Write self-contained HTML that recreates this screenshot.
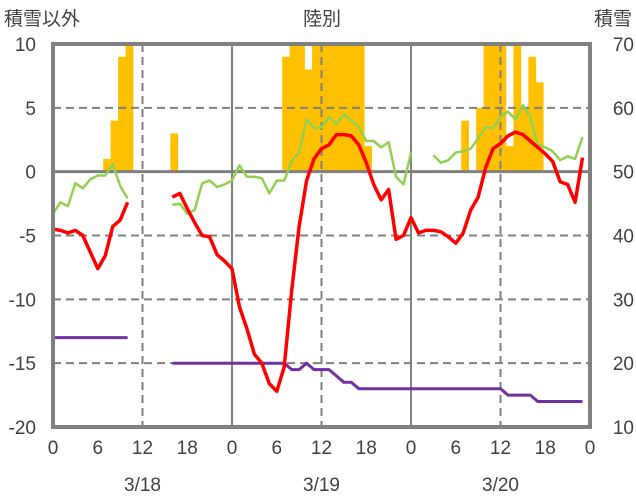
<!DOCTYPE html>
<html><head><meta charset="utf-8"><style>
body{margin:0;background:#fff;}
svg{display:block;font-family:"Liberation Sans","Noto Sans CJK JP",sans-serif;}
</style></head><body>
<svg id="chart" width="636" height="501"></svg>
<script>
const hours=[...Array(72).keys()];
const xTickLabels=["0","6","12","18","0","6","12","18","0","6","12","18","0"];
const dateLabels=["3/18","3/19","3/20"];
const leftTicks=[10,5,0,-5,-10,-15,-20];
const rightTicks=[70,60,50,40,30,20,10];
const N=null;
const tempMax=[-4.5,-4.6,-4.8,-4.6,-5.0,-6.3,-7.6,-6.6,-4.3,-3.8,-2.4,N,N,N,N,N,-2.0,-1.7,-2.9,-4.0,-5.0,-5.1,-6.5,-7.0,
-7.6,-10.6,-12.3,-14.3,-15.0,-16.6,-17.2,-15.3,-9.3,-4.3,-0.7,1.0,1.8,2.1,2.9,2.9,2.8,2.1,0.7,-1.0,-2.2,-1.4,-5.3,-5.0,
-3.6,-4.8,-4.6,-4.6,-4.7,-5.1,-5.6,-4.8,-3.0,-2.0,0.3,1.8,2.2,2.8,3.1,2.9,2.4,1.9,1.4,0.8,-0.8,-1.0,-2.4,1.1];
const tempGreen=[-3.3,-2.4,-2.7,-0.9,-1.3,-0.6,-0.3,-0.3,0.6,-1.1,-2.1,N,N,N,N,N,-2.6,-2.5,-3.3,-3.0,-0.9,-0.7,-1.2,-1.0,
-0.7,0.5,-0.4,-0.4,-0.5,-1.7,-0.7,-0.7,0.8,1.5,4.1,3.4,3.5,4.3,3.7,4.5,4.0,3.5,2.4,2.4,1.9,2.3,-0.4,-1.0,
1.5,N,N,1.3,0.7,0.9,1.5,1.6,1.8,2.6,3.5,3.4,4.3,4.7,4.1,5.2,4.3,2.1,1.9,1.6,0.9,1.2,1.0,2.7];
const snowDepth=[24,24,24,24,24,24,24,24,24,24,24,N,N,N,N,N,20,20,20,20,20,20,20,20,
20,20,20,20,20,20,20,20,19,19,20,19,19,19,18,17,17,16,16,16,16,16,16,16,
16,16,16,16,16,16,16,16,16,16,16,16,16,15,15,15,15,14,14,14,14,14,14,14];
const precip=[0,0,0,0,0,0,0,1,4,9,12,0,0,0,0,0,3,0,0,0,0,0,0,0,
0,0,0,0,0,0,0,9,12,12,8,12,12,12,12,12,12,12,2,0,0,0,0,0,
0,0,0,0,0,0,0,4,0,5,12,12,12,2,12,5,9,7,0,0,0,0,0,0];

const L=53,R=590,T=44,B=427;
const X=h=>L+(R-L)*h/72;
const YL=v=>T+(10-v)*(B-T)/30;
const YR=v=>T+(70-v)*(B-T)/60;
const svg=document.getElementById('chart');
const NS='http://www.w3.org/2000/svg';
function mk(tag,attrs,parent){const e=document.createElementNS(NS,tag);for(const k in attrs)e.setAttribute(k,attrs[k]);(parent||svg).appendChild(e);return e;}

// bars
const gb=mk('g',{});


precip.forEach((v,h)=>{if(!v)return;const top=Math.max(YL(Math.min(v,10)),T);
const r=mk('rect',{x:X(h)-2,y:top,width:(R-L)/72+0.3,height:YL(0)-top,fill:'#ffc000'},gb);

});

// grid
[5,-5,-10,-15].forEach(v=>{const g=mk('line',{x1:L,x2:R,y1:YL(v),y2:YL(v),stroke:'#808080','stroke-width':2,'stroke-dasharray':'8,5'});

});
[12,36,60].forEach(h=>{const g=mk('line',{x1:X(h),x2:X(h),y1:T,y2:B,stroke:'#808080','stroke-width':2,'stroke-dasharray':'8,5'});

});
[24,48].forEach(h=>{const g=mk('line',{x1:X(h),x2:X(h),y1:T,y2:B,stroke:'#808080','stroke-width':2});

});
const z=mk('line',{x1:L,x2:R,y1:YL(0),y2:YL(0),stroke:'#808080','stroke-width':3});



function series(arr,yf,color,w,name){
  let d='',pen=false;
  arr.forEach((v,h)=>{if(v===null){pen=false;return;}d+=(pen?'L':'M')+X(h).toFixed(1)+','+yf(v).toFixed(1);pen=true;});
  const p=mk('path',{d:d,fill:'none',stroke:color,'stroke-width':w,'stroke-linejoin':'round'});
  
  
}
series(tempGreen,YL,'#92d050',2.5,'green-line');
series(snowDepth,YR,'#7030a0',3,'snow-depth-line');
series(tempMax,YL,'#ff0000',3.5,'red-temperature-line');

const fr=mk('rect',{x:L,y:T,width:R-L,height:B-T,fill:'none',stroke:'#808080','stroke-width':4});



const tc='#404040';
leftTicks.forEach(v=>{const t=mk('text',{x:36,y:YL(v)+7,'text-anchor':'end','font-size':19,fill:tc});t.textContent=v;

});
rightTicks.forEach(v=>{const t=mk('text',{x:634,y:YR(v)+7,'text-anchor':'end','font-size':19,fill:tc});t.textContent=v;

});
xTickLabels.forEach((s,i)=>{const t=mk('text',{x:X(i*6),y:454,'text-anchor':'middle','font-size':19,fill:tc});t.textContent=s;

});
dateLabels.forEach((s,i)=>{const t=mk('text',{x:X(12+24*i),y:491,'text-anchor':'middle','font-size':19,fill:tc});t.textContent=s;

});
[['積雪以外',4,'start','left-axis-title'],['陸別',322,'middle','chart-title'],['積雪',632,'end','right-axis-title']].forEach(a=>{
const t=mk('text',{x:a[1],y:25,'text-anchor':a[2],'font-size':19,fill:tc});t.textContent=a[0];

});
</script>
</body></html>
